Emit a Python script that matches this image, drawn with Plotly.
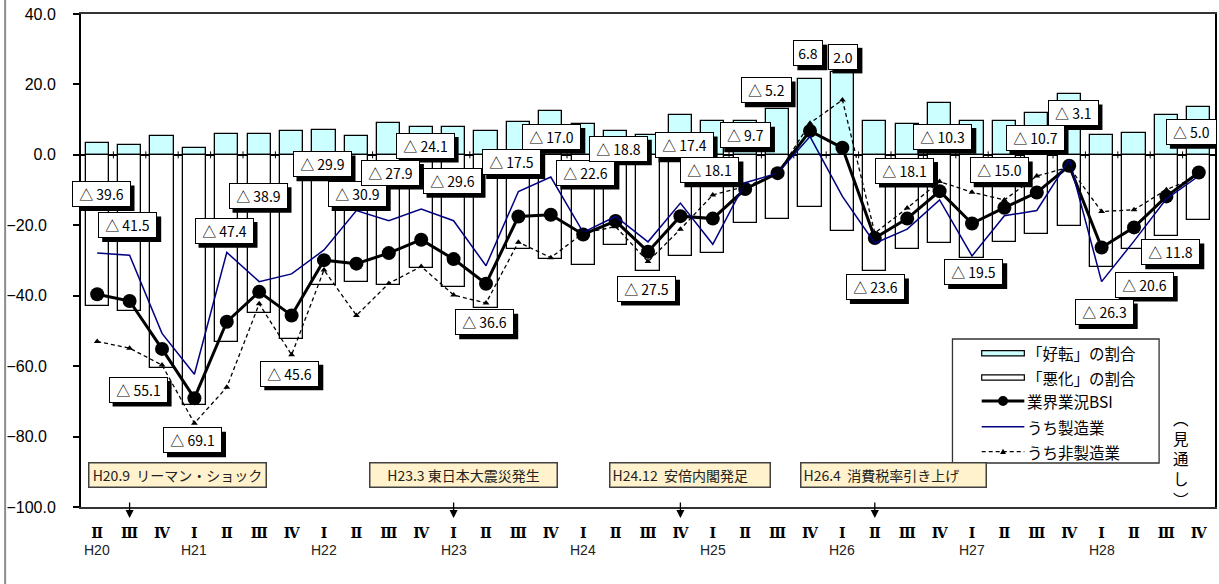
import plotly.graph_objects as go

# ---- data -------------------------------------------------------------
quarter_labels = ["Ⅱ", "Ⅲ", "Ⅳ"] + ["Ⅰ", "Ⅱ", "Ⅲ", "Ⅳ"] * 8
year_names = ["H20", "H21", "H22", "H23", "H24", "H25", "H26", "H27", "H28"]
year_positions = [0, 3, 7, 11, 15, 19, 23, 27, 31]

# share of firms answering "improved" / "worsened" (%)
better = [3.3, 2.8, 5.4, 2.0, 5.8, 6.0, 6.7, 7.1, 5.3, 9.0, 8.0, 7.8, 6.9, 9.2,
          12.5, 8.8, 6.8, 5.6, 11.4, 9.7, 9.7, 13.1, 21.6, 23.5, 9.5, 8.7, 14.7,
          9.7, 9.7, 11.8, 17.2, 5.6, 6.2, 11.2, 13.6]
worse = [42.9, 44.3, 60.5, 71.1, 53.2, 44.9, 52.3, 37.0, 36.2, 36.9, 32.1, 37.4,
         43.5, 26.7, 29.5, 31.4, 25.6, 33.1, 28.8, 27.8, 19.4, 18.3, 14.8, 21.5,
         33.1, 26.8, 25.0, 29.2, 24.7, 22.5, 20.3, 31.9, 26.8, 23.0, 18.6]

# business survey index: all industries / manufacturing / non-manufacturing
bsi = [-39.6, -41.5, -55.1, -69.1, -47.4, -38.9, -45.6, -29.9, -30.9, -27.9,
       -24.1, -29.6, -36.6, -17.5, -17.0, -22.6, -18.8, -27.5, -17.4, -18.1,
       -9.7, -5.2, 6.8, 2.0, -23.6, -18.1, -10.3, -19.5, -15.0, -10.7, -3.1,
       -26.3, -20.6, -11.8, -5.0]
manufacturing = [-27.9, -28.5, -50.7, -62.3, -27.7, -36.0, -33.8, -27.0, -15.8,
                 -18.7, -15.4, -18.7, -31.5, -10.4, -6.3, -22.0, -17.5, -24.7,
                 -13.7, -25.4, -7.9, -5.2, 5.2, -11.8, -25.1, -21.1, -12.8,
                 -28.7, -17.3, -15.8, -1.4, -36.0, -24.5, -12.5, -6.0]
non_manufacturing = [-53.0, -54.9, -59.7, -76.2, -66.0, -42.3, -56.8, -32.7,
                     -45.6, -36.5, -31.7, -39.8, -42.1, -24.8, -29.2, -22.2,
                     -20.4, -30.3, -21.1, -11.4, -9.0, -5.5, 9.0, 15.6, -22.2,
                     -15.1, -7.6, -10.6, -12.8, -6.0, -3.5, -16.1, -15.6, -9.9,
                     -6.0]

events = ["H20.9\u00a0\u00a0リーマン・ショック", "H23.3 東日本大震災発生",
          "H24.12\u00a0\u00a0安倍内閣発足", "H26.4\u00a0\u00a0消費税率引き上げ"]
event_quarters = [1, 11, 18, 24]

y_ticks = [-100, -80, -60, -40, -20, 0, 20, 40]

# ---- layout helpers ---------------------------------------------------
W, H = 1219, 584
L, R, T, B = 81, 1217, 14, 507          # plot area in pixels
JP = "Noto Sans CJK JP"
LAT = "Liberation Sans, Arial, sans-serif"


def xp(px):
    return (px - L) / (R - L)


def yp(py):
    return (B - py) / (B - T)


idx = list(range(len(bsi)))

# label placement for the BSI value boxes (pixel shift, axis value)
label_dx = [3.8, -1.9, -23.9, -1.9, -2.8, -1.2, -1.8, -2.0, 0.8, 1.6, 3.9, -1.6,
            -1.3, -6.7, 1.0, 2.7, 2.7, -1.5, 3.7, -2.9, 0.4, -11.4, -1.6, 1.0,
            0.6, -2.7, 3.2, 1.7, -5.2, -1.8, 3.9, 2.6, 10.2, 4.4, -7.5]
label_y = [-11.2, -20.0, -66.7, -81.1, -21.6, -11.7, -62.1, -2.7, -11.2, -5.1,
           2.6, -7.4, -47.6, -2.1, 5.1, -5.1, 1.8, -38.0, 2.7, -4.4, 5.5, 18.3,
           28.8, 27.9, -37.6, -4.5, 5.1, -33.3, -4.4, 4.9, 11.8, -44.7, -36.9,
           -27.7, 6.5]
BOX_H = 25.6
SHADOW = 4

# event box geometry: centre (category units), box width (px), text alignment
event_x = [2.47, 11.29, 18.3, 24.58]
event_w = [179, 189, 162, 187]
event_align = ["center", "center", "left", "left"]

fig = go.Figure()

fig.add_trace(go.Bar(
    x=idx, y=better, width=0.72, name="「好転」の割合",
    marker=dict(color="#CCFFFF", line=dict(color="black", width=1.3)),
))
fig.add_trace(go.Bar(
    x=idx, y=[-v for v in worse], width=0.72, name="「悪化」の割合",
    marker=dict(color="white", line=dict(color="black", width=1.3)),
))
fig.add_trace(go.Scatter(
    x=idx, y=bsi, mode="lines+markers", name="業界業況BSI",
    line=dict(color="black", width=3),
    marker=dict(symbol="circle", size=14, color="black"),
))
fig.add_trace(go.Scatter(
    x=idx, y=manufacturing, mode="lines", name="うち製造業",
    line=dict(color="#000080", width=1.5),
))
fig.add_trace(go.Scatter(
    x=idx, y=non_manufacturing, mode="lines+markers", name="うち非製造業",
    line=dict(color="black", width=1.3, dash="4px,3px"),
    marker=dict(symbol="triangle-up", size=6, color="black"),
))

annotations = []
shapes = []

# BSI value boxes, each with a solid drop shadow behind it
for i, v in enumerate(bsi):
    text = f"△ {abs(v):.1f}" if v < 0 else f"{v:.1f}"
    if v < 0:
        bw = 59 if abs(v) >= 10 else 50.7
    else:
        bw = 30
    cxp = label_dx[i] + SHADOW
    shapes.append(dict(
        type="rect", xref="x", yref="y",
        xsizemode="pixel", xanchor=i, x0=cxp - bw / 2, x1=cxp + bw / 2,
        ysizemode="pixel", yanchor=label_y[i],
        y0=-SHADOW - BOX_H / 2, y1=-SHADOW + BOX_H / 2,
        fillcolor="black", line=dict(width=0), layer="above",
    ))
    annotations.append(dict(
        x=i, y=label_y[i], xref="x", yref="y", xshift=label_dx[i],
        text=text, showarrow=False,
        width=bw - 4, height=BOX_H - 4, align="center", valign="middle",
        font=dict(family=JP, size=14, color="black"),
        bgcolor="white", bordercolor="black", borderwidth=1, borderpad=1,
    ))

# event boxes with arrows onto the quarter axis
for k, txt in enumerate(events):
    annotations.append(dict(
        x=event_x[k], y=yp(488), xref="x", yref="paper",
        text=txt, showarrow=False, align=event_align[k],
        width=event_w[k] - 7, height=18.7, valign="middle",
        font=dict(family=JP, size=14, color="#222222"),
        bgcolor="#FFF2CC", bordercolor="#404040", borderwidth=1.5, borderpad=2,
    ))
    annotations.append(dict(
        x=event_quarters[k], y=yp(518), xref="x", yref="paper",
        text="", showarrow=True, ax=0, ay=-17,
        arrowhead=2, arrowsize=1.25, arrowwidth=1.3, arrowcolor="black",
        standoff=0,
    ))

# fiscal-year labels under the quarter numerals
for pos, name in zip(year_positions, year_names):
    annotations.append(dict(
        x=pos, y=yp(549.5), xref="x", yref="paper", text=name,
        showarrow=False, yanchor="middle",
        font=dict(family=LAT, size=14, color="#222222"),
    ))

# "(見通し)" written vertically above the last quarter
annotations.append(dict(
    x=xp(1183), y=yp(405), xref="paper", yref="paper",
    xanchor="center", yanchor="top", width=20,
    text="︵<br>見<br>通<br>し<br>︶", showarrow=False,
    font=dict(family=JP, size=15.5, color="black"),
))

# category boundary marks on the zero line
for k in range(1, len(bsi)):
    shapes.append(dict(
        type="line", xref="x", yref="y", x0=k - 0.5, x1=k - 0.5,
        ysizemode="pixel", yanchor=0, y0=-3.5, y1=3.5,
        line=dict(color="black", width=1), layer="below",
    ))

# legend box
shapes.append(dict(type="rect", xref="paper", yref="paper",
                   x0=xp(954), x1=xp(1161), y0=yp(463), y1=yp(339),
                   fillcolor="white", line=dict(color="#333333", width=1.3)))
rows = [353.3, 377.5, 401, 426.7, 451.7]
sx0, sx1 = 983.3, 1026
shapes.append(dict(type="rect", xref="paper", yref="paper",
                   x0=xp(sx0), x1=xp(sx1), y0=yp(rows[0] + 2.6), y1=yp(rows[0] - 2.6),
                   fillcolor="#CCFFFF", line=dict(color="black", width=1.2)))
shapes.append(dict(type="rect", xref="paper", yref="paper",
                   x0=xp(sx0), x1=xp(sx1), y0=yp(rows[1] + 2.6), y1=yp(rows[1] - 2.6),
                   fillcolor="white", line=dict(color="black", width=1.2)))
shapes.append(dict(type="line", xref="paper", yref="paper",
                   x0=xp(sx0), x1=xp(sx1), y0=yp(rows[2]), y1=yp(rows[2]),
                   line=dict(color="black", width=3)))
cx = (sx0 + sx1) / 2
shapes.append(dict(type="circle", xref="paper", yref="paper",
                   x0=xp(cx - 5), x1=xp(cx + 5), y0=yp(rows[2] + 5), y1=yp(rows[2] - 5),
                   fillcolor="black", line=dict(color="black", width=0)))
shapes.append(dict(type="line", xref="paper", yref="paper",
                   x0=xp(sx0), x1=xp(sx1), y0=yp(rows[3]), y1=yp(rows[3]),
                   line=dict(color="#000080", width=1.5)))
shapes.append(dict(type="line", xref="paper", yref="paper",
                   x0=xp(sx0), x1=xp(sx1), y0=yp(rows[4]), y1=yp(rows[4]),
                   line=dict(color="black", width=1.2, dash="4px,3px")))
tri = (f"M {xp(cx - 3)} {yp(rows[4] + 2.2)} L {xp(cx + 3)} {yp(rows[4] + 2.2)} "
       f"L {xp(cx)} {yp(rows[4] - 3)} Z")
shapes.append(dict(type="path", xref="paper", yref="paper", path=tri,
                   fillcolor="black", line=dict(color="black", width=0)))
legend_names = ["「好転」の割合", "「悪化」の割合", "業界業況BSI", "うち製造業", "うち非製造業"]
for name, ry in zip(legend_names, rows):
    annotations.append(dict(
        x=xp(1027), y=yp(ry), xref="paper", yref="paper", text=name,
        showarrow=False, xanchor="left", yanchor="middle",
        font=dict(family=JP, size=15.5, color="black"),
    ))

# outer chart border on the left
shapes.append(dict(type="line", xref="paper", yref="paper",
                   x0=xp(5), x1=xp(5), y0=yp(584), y1=yp(0),
                   line=dict(color="#8c8c8c", width=2)))

y_text = []
for t in y_ticks:
    s = f"{abs(t):.1f}"
    if t < 0:
        s = "\u2212" + s + ("" if t == -100 else "\u00a0\u00a0")
    y_text.append(s)

fig.update_layout(
    width=W, height=H,
    margin=dict(l=L, r=W - R, t=T, b=H - B),
    paper_bgcolor="white", plot_bgcolor="white",
    barmode="relative", bargap=0,
    showlegend=False,
    annotations=annotations, shapes=shapes,
    xaxis=dict(
        range=[-0.5, len(bsi) - 0.5], tickmode="array",
        tickvals=idx, ticktext=quarter_labels,
        showline=True, mirror=True, linecolor="#333333", linewidth=1.5,
        ticks="", showgrid=False, zeroline=False,
        tickfont=dict(family="DejaVu Serif", size=14, color="black", weight="bold"),
        ticklabelstandoff=12,
    ),
    yaxis=dict(
        range=[-100, 40], tickmode="array", tickvals=y_ticks, ticktext=y_text,
        showline=True, mirror=True, linecolor="black", linewidth=2,
        ticks="outside", ticklen=6, tickwidth=1.5, tickcolor="black",
        showgrid=False, zeroline=True, zerolinecolor="black", zerolinewidth=2,
        tickfont=dict(family=LAT, size=16, color="black"),
        ticklabelstandoff=14,
    ),
)

fig.write_html("out.html")
